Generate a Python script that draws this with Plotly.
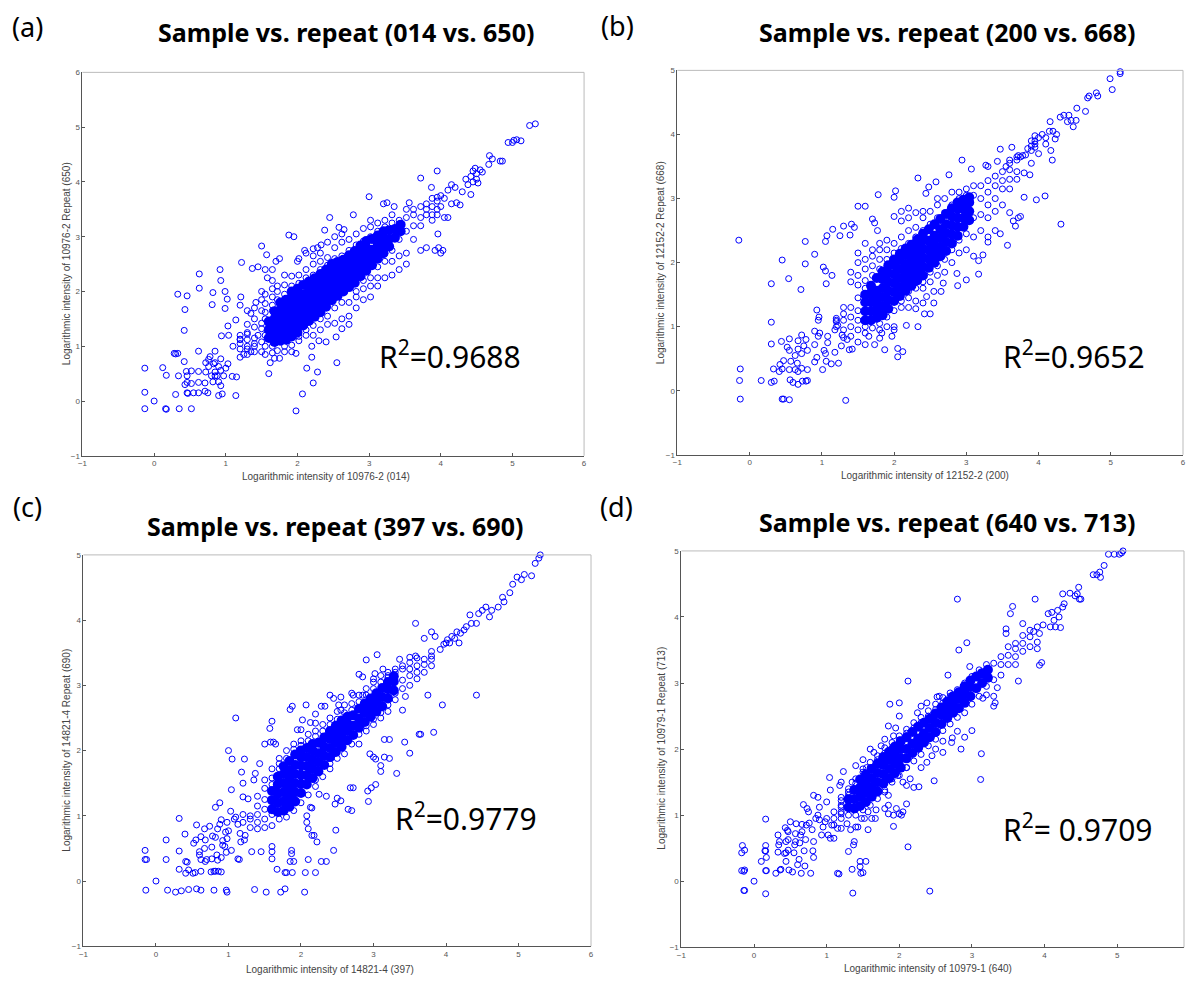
import plotly.graph_objects as go

W, H = 1187, 981
BLUE = "#0000ff"

# ---------- data ----------
# dense centre of each cloud: (sample, [repeat values at that sample value])
a_core = [(1.6,[1.15,1.3,1.45]),(1.68,[1.08,1.22,1.36,1.5,1.64]),(1.76,[1.1,1.24,1.38,1.52,1.66,1.8]),(1.84,[1.12,1.27,1.41,1.55,1.69,1.85]),(1.92,[1.18,1.32,1.46,1.6,1.74,1.88,2.0]),(2.0,[1.25,1.4,1.54,1.68,1.82,1.96,2.05]),(2.08,[1.38,1.52,1.66,1.8,1.94,2.12]),(2.16,[1.46,1.6,1.74,1.88,2.02,2.18]),(2.24,[1.54,1.68,1.82,1.96,2.1,2.24]),(2.32,[1.62,1.76,1.9,2.04,2.18,2.32]),(2.4,[1.72,1.86,2.0,2.14,2.28,2.4]),(2.48,[1.84,1.98,2.12,2.26,2.38,2.5]),(2.56,[1.92,2.06,2.2,2.34,2.46,2.54]),(2.64,[2.0,2.14,2.28,2.42,2.58]),(2.72,[2.08,2.22,2.36,2.5,2.66]),(2.8,[2.16,2.3,2.44,2.58,2.74]),(2.88,[2.28,2.42,2.56,2.7,2.84]),(2.96,[2.38,2.52,2.66,2.8,2.92]),(3.04,[2.48,2.62,2.76,2.96]),(3.12,[2.6,2.74,2.88,3.02]),(3.2,[2.7,2.84,2.98,3.1]),(3.28,[2.82,2.96,3.12]),(3.36,[2.98,3.14]),(3.44,[3.1,3.22])]
b_core = [(1.6,[1.1,1.24,1.38,1.5]),(1.68,[1.1,1.24,1.38,1.52,1.64]),(1.76,[1.14,1.28,1.42,1.56,1.76]),(1.84,[1.18,1.32,1.46,1.6,1.74,1.86]),(1.92,[1.28,1.42,1.56,1.7,1.84,1.96]),(2.0,[1.4,1.54,1.68,1.82,1.96,2.05]),(2.08,[1.48,1.62,1.76,1.9,2.04,2.14]),(2.16,[1.56,1.7,1.84,1.98,2.12,2.22]),(2.24,[1.64,1.78,1.92,2.06,2.18,2.28]),(2.32,[1.72,1.86,2.0,2.14,2.28,2.36]),(2.4,[1.8,1.94,2.08,2.22,2.36,2.45]),(2.48,[1.92,2.06,2.2,2.34,2.52]),(2.56,[2.0,2.14,2.28,2.42,2.6]),(2.64,[2.1,2.24,2.38,2.52,2.68]),(2.72,[2.18,2.32,2.46,2.6,2.76]),(2.8,[2.3,2.44,2.58,2.72,2.85]),(2.88,[2.42,2.56,2.7,2.84,2.94]),(2.96,[2.56,2.7,2.84,2.98]),(3.04,[2.66,2.8,2.94,3.02])]
c_core = [(1.6,[1.1,1.24,1.38]),(1.68,[1.06,1.2,1.34,1.48,1.6]),(1.76,[1.08,1.22,1.36,1.5,1.64,1.76]),(1.84,[1.14,1.28,1.42,1.56,1.7,1.84]),(1.92,[1.22,1.36,1.5,1.64,1.78,1.94]),(2.0,[1.35,1.49,1.63,1.77,1.9,2.0]),(2.08,[1.48,1.62,1.76,1.9,2.04]),(2.16,[1.58,1.72,1.86,2.0,2.1]),(2.24,[1.68,1.82,1.96,2.12]),(2.32,[1.78,1.92,2.06,2.2]),(2.4,[1.9,2.04,2.18,2.3]),(2.48,[1.98,2.12,2.26,2.38]),(2.56,[2.06,2.2,2.34,2.46]),(2.64,[2.16,2.3,2.42,2.52]),(2.72,[2.24,2.38,2.54]),(2.8,[2.35,2.49,2.64]),(2.88,[2.44,2.58,2.72]),(2.96,[2.52,2.66,2.8]),(3.04,[2.6,2.74,2.88]),(3.12,[2.68,2.82,2.96]),(3.2,[2.8,2.94,3.05]),(3.28,[2.92,3.06,3.14])]
d_core = [(1.3,[1.12,1.24]),(1.38,[1.1,1.24,1.38]),(1.46,[1.14,1.28,1.42,1.54]),(1.54,[1.2,1.34,1.48,1.62]),(1.62,[1.28,1.42,1.56,1.7]),(1.7,[1.36,1.5,1.64,1.78]),(1.78,[1.48,1.62,1.76,1.88]),(1.86,[1.56,1.7,1.84,1.96]),(1.94,[1.64,1.78,1.92,2.04]),(2.02,[1.72,1.86,2.0,2.12]),(2.1,[1.86,2.0,2.18]),(2.18,[1.94,2.08,2.26]),(2.26,[2.02,2.16,2.34]),(2.34,[2.1,2.24,2.4]),(2.42,[2.18,2.32,2.46]),(2.5,[2.26,2.4,2.54]),(2.58,[2.38,2.52,2.63]),(2.66,[2.47,2.6,2.72]),(2.74,[2.55,2.68,2.8]),(2.82,[2.62,2.76,2.86]),(2.9,[2.7,2.84,2.95]),(2.98,[2.8,2.94,3.04]),(3.06,[2.92,3.1]),(3.14,[3.0,3.15]),(3.22,[3.08,3.2])]

# open circles crowding round the dense centre
a_fringe = [(1.2,[.95,1.05,1.12,1.2]),(1.3,[.85,1.0,1.12,1.22,1.4,1.65]),(1.4,[.9,1.0,1.15,1.35,1.5,1.7]),(1.5,[.9,1.08,1.32,1.42,1.65,1.85,2.0]),(1.55,[.85,1.0,1.2,1.5,1.62,1.78,1.95]),(1.65,[.88,1.0,1.65,1.75,1.9,2.2,2.4]),(1.72,[.92,1.85,2.0,2.1]),(1.82,[.9,1.0,1.95,2.12,2.3]),(1.92,[.9,1.02,2.1,2.28]),(2.02,[1.1,1.18,2.15,2.3,2.6]),(2.12,[1.2,1.3,2.25,2.4,2.7]),(2.22,[1.2,1.38,2.3,2.5,2.65,2.78]),(2.32,[1.3,1.5,2.4,2.55,2.7]),(2.42,[1.4,1.55,2.48,2.62,2.9]),(2.52,[1.42,1.7,2.6,2.8,3.0]),(2.62,[1.32,1.5,1.8,2.65,2.9,3.05]),(2.72,[1.4,1.55,1.8,2.75,2.95]),(2.82,[1.7,1.9,2.0,2.85,3.05]),(2.92,[1.85,2.05,2.2,2.92,3.15]),(3.02,[1.9,2.1,2.25,3.0,3.18,3.3]),(3.12,[2.1,2.25,2.45,3.1,3.25]),(3.22,[2.25,2.55,2.7,3.18,3.3]),(3.32,[2.3,2.55,2.75,3.25,3.4]),(3.42,[2.4,2.65,2.95,3.3]),(3.52,[2.5,2.7,3.1,3.35,3.5]),(3.62,[2.95,3.2,3.4,3.5]),(3.72,[2.75,3.2,3.35,3.55]),(3.8,[3.4,3.5,3.6]),(3.88,[3.3,3.4,3.55,3.7]),(3.95,[3.4,3.5,3.65,3.72])]
b_fringe = [(1.2,[1.0,1.08,1.13]),(1.3,[.95,1.1,1.2,1.3]),(1.4,[.85,1.0,1.15,1.3,1.7,1.85]),(1.5,[.95,1.1,1.25,1.45,1.65,1.8,2.0,2.15]),(1.6,[.9,1.0,1.6,1.72,1.9,2.05,2.3]),(1.7,[.98,1.8,1.95,2.1,2.2]),(1.8,[.95,1.05,1.9,2.05,2.2,2.3]),(1.9,[1.0,1.15,2.05,2.2,2.35]),(2.0,[.95,1.25,2.15,2.3,2.72]),(2.1,[1.3,1.4,2.22,2.4,2.65,2.8]),(2.2,[1.45,1.55,2.3,2.5,2.7,2.85]),(2.3,[1.4,1.6,2.4,2.55,2.78]),(2.4,[1.6,1.7,2.5,2.7,2.8]),(2.5,[1.7,1.85,2.6,2.8]),(2.6,[1.8,1.95,2.7,2.9,3.0]),(2.7,[1.85,2.05,2.78,3.0]),(2.8,[2.0,2.2,2.9,3.1]),(2.9,[2.15,2.35,3.0,3.1]),(3.0,[2.2,2.45,3.05,3.15]),(3.1,[2.1,2.4,2.7,3.05,3.2]),(3.2,[2.5,2.75,3.0,3.2]),(3.3,[2.7,2.9,3.1,3.28]),(3.4,[2.8,3.0,3.2,3.35]),(3.5,[2.9,3.15,3.28,3.42]),(3.6,[3.15,3.3,3.45,3.55]),(3.7,[3.3,3.42,3.6,3.65]),(3.9,[3.75,3.82,3.9]),(3.95,[3.8,3.9,3.98])]
c_fringe = [(1.3,[.82,.95,1.0]),(1.4,[.8,.9,1.02,1.15,1.3]),(1.5,[.82,.95,1.1,1.25,1.42,1.55]),(1.6,[.85,1.02,1.48,1.58,1.72]),(1.7,[.95,1.72,1.8,1.88]),(1.8,[.98,1.88,2.0]),(1.9,[1.08,2.02,2.1]),(2.0,[1.2,2.08,2.15]),(2.1,[1.32,2.15,2.25]),(2.2,[1.45,1.55,2.22,2.3]),(2.3,[1.6,2.3,2.4]),(2.4,[1.72,1.8,2.4,2.5]),(2.5,[1.88,2.48,2.6]),(2.6,[1.95,2.58,2.7]),(2.7,[2.1,2.62,2.72]),(2.8,[2.1,2.25,2.75,2.85]),(2.9,[2.3,2.38,2.85,2.95]),(3.0,[2.4,2.48,2.95,3.05]),(3.1,[2.5,2.58,3.05,3.15]),(3.2,[2.6,2.7,3.12,3.2]),(3.3,[2.78,2.88,3.2,3.25]),(3.4,[2.95,3.08,3.25,3.3]),(3.5,[3.0,3.15,3.25,3.35]),(3.6,[3.1,3.2,3.3,3.42]),(3.7,[3.2,3.32,3.4]),(3.8,[3.3,3.4,3.45,3.52])]
d_fringe = [(1.1,[.85,.95,1.05]),(1.2,[.95,1.02,1.12,1.22]),(1.3,[1.0,1.3,1.4]),(1.4,[1.0,1.48,1.55]),(1.5,[1.08,1.65,1.7]),(1.6,[1.15,1.72,1.8]),(1.7,[1.25,1.84,1.9]),(1.8,[1.38,1.94,2.02]),(1.9,[1.5,2.02,2.1]),(2.0,[1.6,2.14,2.2]),(2.1,[1.72,2.24,2.3]),(2.2,[1.82,2.32,2.4]),(2.3,[1.92,2.4,2.48]),(2.4,[2.05,2.5,2.58]),(2.5,[2.15,2.6,2.68]),(2.6,[2.28,2.7,2.78]),(2.7,[2.38,2.8,2.85]),(2.8,[2.48,2.9]),(2.9,[2.55,3.0]),(3.0,[2.68,3.1]),(3.1,[2.8,3.2]),(3.2,[2.95,3.28]),(3.3,[3.05,3.3]),(3.4,[3.12,3.28,3.4]),(3.5,[3.28,3.42,3.55]),(3.6,[3.28,3.4,3.52,3.6]),(3.7,[3.48,3.6,3.72]),(3.8,[3.55,3.7,3.8])]

a_points = [(-.13,.6),(-.13,.16),(-.13,-.14),(0,0),(.12,.61),(.17,.47),(.16,-.14),(.17,-.15),(.3,.12),(.34,.46),(.35,-.14),(.28,.87),(.3,.86),(.33,.87),(.42,.72),(.42,1.29),(.43,1.67),(.33,1.95),(.46,1.92),(.63,2.06),(.63,2.32),(.43,.3),(.46,.34),(.46,.46),(.45,.54),(.52,.55),(.52,.32),(.52,-.14),(.46,.15),(.47,.14),(.55,.15),(.62,.15),(.62,.34),(.62,.54),(.62,.91),(.71,.18),(.75,.15),(.71,.33),(.72,.53),(.72,.7),(.76,.76),(.78,.81),(.76,.63),(.82,.35),(.8,.46),(.85,.46),(.85,.53),(.83,.68),(.85,.7),(.85,.91),(.88,.46),(.9,.1),(.9,.35),(.9,.63),(.93,.77),(.93,.56),(.93,.28),(.95,.13),(.97,.46),(1.0,.6),(1.03,.68),(1.09,.45),(1.15,.44),(1.14,.1),(.92,2.4),(.93,2.2),(.82,1.98),(.81,1.76),(.99,2.0),(1.02,1.86),(.99,1.69),(1.03,1.37),(.94,1.19),(1.04,1.2),(1.14,1.48),(1.21,1.9),(1.2,1.75),(1.22,2.53),(1.3,1.25),(1.2,1.13),(1.1,1.0),(1.2,.8),(1.25,.85),(1.3,.95),(1.35,.9),(1.4,1.05),(1.45,1.2),(1.35,1.6),(1.42,1.8),(1.37,2.42),(1.45,2.45),(1.5,2.83),(1.57,2.67),(1.55,2.4),(1.58,2.25),(1.65,2.05),(1.7,2.55),(1.75,2.6),(1.88,3.03),(1.95,3.0),(1.6,.5),(1.62,.7),(1.68,.78),(1.75,.78),(1.98,.87),(2.13,.6),(2.2,.8),(2.28,.53),(2.22,.33),(2.07,.13),(1.98,-.18),(2.55,.7),(2.2,1.0),(2.3,1.1),(2.4,1.08),(2.54,1.17),(2.0,2.55),(2.1,2.75),(2.28,2.8),(2.33,2.85),(2.45,3.35),(2.38,3.12),(2.58,3.17),(2.78,3.4),(2.65,3.13),(3.0,3.73),(3.2,3.6),(3.25,3.62),(3.35,3.55),(3.56,3.62),(3.72,4.07),(3.95,4.2),(3.87,3.9),(3.8,2.8),(3.92,2.75),(3.96,3.05),(3.97,2.8),(4.0,2.7),(4.03,2.75),(4.0,3.55),(4.0,3.75),(4.05,3.7),(4.1,3.35),(4.05,3.35),(4.1,3.85),(4.15,3.95),(4.15,3.6),(4.2,3.9),(4.22,3.62),(4.27,3.58),(4.3,3.82),(4.35,4.05),(4.38,3.95),(4.42,3.77),(4.42,4.1),(4.45,4.0),(4.45,4.2),(4.48,4.25),(4.5,4.15),(4.5,4.05),(4.52,3.98),(4.55,4.22),(4.58,4.18),(4.67,4.32),(4.68,4.48),(4.72,4.42),(4.83,4.38),(4.86,4.38),(4.94,4.72),(5.0,4.72),(5.02,4.76),(5.06,4.77),(5.12,4.75),(5.24,5.03),(5.32,5.06)]

b_points = [(-.15,2.35),(-.13,.34),(-.14,.16),(-.13,-.13),(.16,.16),(.3,.13),(.34,.15),(.3,1.07),(.3,.73),(.3,1.67),(.45,2.04),(.54,1.75),(.71,1.58),(.77,1.98),(.77,2.33),(.9,2.13),(.93,1.26),(.95,1.1),(.96,1.15),(1.02,1.93),(1.05,1.87),(1.06,1.67),(1.14,1.8),(1.05,2.33),(1.07,2.42),(1.15,2.52),(1.3,2.57),(1.25,2.42),(1.39,2.43),(1.41,2.6),(1.45,2.55),(1.5,2.88),(1.6,2.88),(1.7,2.68),(1.73,2.62),(1.77,2.5),(1.78,3.06),(2.02,3.12),(2.0,3.02),(.45,-.13),(.47,-.13),(.55,-.14),(1.33,-.15),(.33,.34),(.42,.41),(.41,.3),(.47,.47),(.45,.34),(.44,.77),(.52,.68),(.55,.63),(.55,.81),(.56,.17),(.6,.13),(.55,.33),(.57,.46),(.63,.55),(.63,.33),(.67,.1),(.67,.3),(.66,.43),(.67,.65),(.67,.78),(.72,.87),(.73,.15),(.72,.35),(.72,.58),(.78,.8),(.78,.15),(.8,.16),(.8,.33),(.8,.63),(.75,.7),(.9,.45),(.9,.72),(.9,.93),(.93,.52),(.95,.85),(.97,.9),(1.01,.33),(1.03,.63),(1.05,.58),(1.06,.46),(1.08,.85),(1.08,.75),(1.13,.42),(1.18,.6),(1.23,.43),(1.35,.8),(1.38,.64),(1.42,.65),(1.22,1.02),(1.18,.95),(1.2,1.1),(1.28,.87),(1.3,.83),(1.27,.7),(1.5,.76),(1.6,.72),(1.73,.72),(1.87,.64),(2.05,.53),(2.05,.66),(2.12,.61),(1.8,.82),(1.65,.85),(1.83,.9),(1.97,.85),(2.0,1.0),(2.17,1.02),(2.33,1.0),(2.42,1.2),(2.5,1.2),(2.55,1.37),(2.55,1.55),(2.65,1.55),(2.68,1.68),(2.88,1.64),(2.87,1.83),(3.0,1.73),(3.17,1.82),(2.4,1.37),(2.45,1.47),(2.3,1.28),(2.2,1.3),(2.33,3.32),(2.44,3.08),(2.48,3.18),(2.58,3.26),(2.76,3.37),(2.94,3.6),(3.07,3.46),(3.27,3.52),(3.3,3.5),(3.43,3.58),(3.55,3.5),(3.6,3.6),(3.47,3.77),(3.63,3.8),(3.72,3.67),(3.8,3.02),(3.97,2.98),(4.09,3.04),(4.31,2.6),(3.57,2.27),(3.47,2.45),(3.4,2.5),(3.3,2.32),(3.3,2.4),(3.23,2.12),(3.17,2.03),(3.6,2.78),(3.65,2.65),(3.72,2.7),(3.75,2.72),(3.68,2.57),(3.75,3.65),(3.78,3.67),(3.8,3.4),(3.82,3.68),(3.85,3.78),(3.88,3.37),(3.9,3.55),(3.95,3.85),(4.0,3.7),(4.0,3.95),(4.05,4.0),(4.1,3.85),(4.1,3.95),(4.15,4.05),(4.17,3.75),(4.19,3.6),(4.2,4.05),(4.23,3.93),(4.25,4.0),(4.16,4.2),(4.3,4.27),(4.35,4.3),(4.4,4.2),(4.42,4.3),(4.45,4.22),(4.48,4.12),(4.52,4.22),(4.53,4.41),(4.65,4.36),(4.68,4.57),(4.7,4.6),(4.8,4.65),(4.82,4.6),(4.99,4.87),(5.02,4.7),(5.13,4.95),(5.13,4.98)]

c_points = [(-.15,.47),(-.15,.33),(-.13,.33),(-.14,-.14),(0,0),(.14,.63),(.14,.33),(.16,-.14),(.27,-.17),(.32,.96),(.32,.46),(.32,.18),(.35,-.15),(.4,.72),(.41,.3),(.43,.29),(.41,.12),(.45,.17),(.45,-.13),(.52,.58),(.55,.63),(.56,.86),(.51,.12),(.54,.13),(.56,-.12),(.62,.15),(.62,-.14),(.6,.45),(.6,.4),(.62,.33),(.62,.68),(.67,.8),(.68,.63),(.67,.5),(.68,.3),(.7,.33),(.74,.84),(.76,.14),(.77,.34),(.77,.52),(.78,.69),(.8,.15),(.8,-.14),(.82,.67),(.82,.15),(.84,.4),(.85,.32),(.86,.15),(.85,.8),(.88,.87),(.9,.94),(.9,.14),(.9,.36),(.92,.55),(.92,.62),(.95,.53),(.96,.75),(.97,.44),(.97,-.14),(.98,-.17),(.98,.65),(1.0,.77),(1.03,1.07),(1.04,.47),(1.08,.95),(1.1,.98),(1.13,.87),(1.13,.34),(1.15,.33),(1.16,.73),(1.17,.6),(1.2,.9),(1.22,.63),(1.23,.7),(1.2,1.02),(1.32,.45),(1.36,-.13),(1.45,.45),(1.52,-.17),(1.6,.53),(1.6,.45),(1.6,.34),(1.67,.18),(1.72,-.17),(1.78,-.12),(1.78,.13),(1.8,.13),(1.85,.3),(1.87,.47),(1.87,.42),(1.88,.13),(1.9,.3),(2.05,-.17),(2.06,.13),(2.1,.33),(2.2,.13),(2.28,.3),(2.35,.3),(2.45,.47),(2.48,.78),(2.22,.6),(2.15,.7),(2.18,.7),(2.1,.8),(2.08,.9),(2.08,1.0),(2.13,1.13),(2.15,1.12),(2.25,1.33),(2.35,1.3),(2.47,1.18),(2.5,1.27),(2.55,1.23),(2.65,1.1),(2.7,1.08),(2.68,1.43),(2.72,1.43),(2.93,1.22),(2.92,1.38),(2.97,1.43),(3.03,1.48),(3.32,1.65),(3.1,1.68),(3.1,1.77),(2.95,1.95),(3.0,1.9),(3.03,1.87),(3.15,1.9),(3.22,1.88),(3.15,2.17),(3.22,2.17),(3.5,1.96),(3.43,2.13),(3.63,2.25),(3.65,2.25),(3.83,2.28),(3.95,2.7),(4.42,2.85),(3.75,2.85),(3.44,2.83),(3.4,2.62),(.82,1.13),(.88,1.2),(1.04,1.4),(.98,.9),(1.0,2.0),(1.05,1.87),(1.22,1.87),(1.1,2.5),(1.18,1.67),(1.2,1.5),(1.2,1.29),(1.27,1.26),(1.35,1.55),(1.37,1.65),(1.43,1.8),(1.5,2.1),(1.57,2.34),(1.58,2.13),(1.6,2.45),(1.62,2.13),(1.65,2.1),(1.85,2.63),(1.88,2.68),(2.07,2.7),(2.02,2.47),(1.95,2.32),(2.0,2.32),(2.13,2.43),(2.2,2.42),(2.2,2.56),(2.28,2.68),(2.33,2.68),(2.4,2.85),(2.45,2.8),(2.52,2.7),(2.55,2.62),(2.55,2.82),(2.7,2.88),(2.72,2.85),(2.85,2.85),(2.9,3.39),(3.05,3.47),(3.13,3.25),(2.8,3.17),(2.85,3.13),(3.02,3.18),(3.0,3.1),(3.2,3.15),(3.36,3.4),(3.5,3.43),(3.58,3.45),(3.58,3.95),(3.7,3.72),(3.8,3.82),(3.85,3.75),(3.92,3.55),(3.97,3.63),(4.0,3.65),(4.02,3.7),(4.05,3.65),(4.08,3.75),(4.12,3.72),(4.15,3.82),(4.18,3.65),(4.2,3.8),(4.25,3.85),(4.28,3.9),(4.33,4.08),(4.35,3.95),(4.42,3.95),(4.45,4.1),(4.5,4.15),(4.55,4.2),(4.6,4.05),(4.63,4.15),(4.72,4.2),(4.78,4.35),(4.8,4.28),(4.88,4.42),(4.92,4.55),(4.98,4.66),(5.04,4.62),(5.08,4.7),(5.18,4.68),(5.23,4.87),(5.28,4.95),(5.3,5.0)]

d_points = [(-.17,.43),(-.16,.54),(-.13,.47),(-.17,.16),(-.14,.15),(-.13,.17),(-.14,-.14),(-.13,-.14),(0,0),(.16,.54),(.15,.46),(.16,.46),(.16,-.19),(.16,.16),(.17,.16),(.16,.94),(.17,.36),(.1,.3),(.3,.12),(.33,.44),(.33,.7),(.34,.55),(.35,.6),(.36,.17),(.37,.18),(.42,.42),(.44,.43),(.44,.6),(.43,.81),(.46,.77),(.44,.3),(.47,.47),(.47,.75),(.5,.9),(.47,.63),(.48,.17),(.53,.14),(.56,.55),(.57,.6),(.55,.43),(.58,.87),(.57,.72),(.6,.25),(.62,.33),(.63,.58),(.64,.7),(.65,.12),(.66,.86),(.66,.75),(.68,1.16),(.69,.46),(.7,.23),(.71,.63),(.72,.85),(.73,1.1),(.75,1.05),(.76,.88),(.78,.12),(.8,.78),(.81,.46),(.82,.6),(.82,.36),(.85,.95),(.88,1.0),(.9,.93),(.93,.7),(.95,.82),(.98,.9),(1.0,.95),(1.02,.7),(1.05,.65),(1.07,.85),(1.1,.65),(1.15,.12),(1.17,.11),(.82,1.3),(.88,1.27),(.9,1.12),(1.04,1.57),(1.05,1.38),(1.0,1.2),(1.18,1.45),(1.2,1.5),(1.2,1.15),(1.2,1.05),(1.23,1.66),(1.15,.8),(1.2,.8),(1.28,.87),(1.3,.45),(1.33,.78),(1.35,.18),(1.37,.55),(1.38,.6),(1.4,.82),(1.43,.82),(1.47,.12),(1.46,.22),(1.46,.3),(1.5,.13),(1.54,.3),(1.36,-.18),(1.57,.78),(1.48,.95),(1.52,.95),(1.57,1.05),(1.62,.95),(1.68,1.08),(1.67,.95),(1.8,1.1),(1.85,1.15),(1.85,1.02),(1.92,1.0),(1.92,.83),(1.96,1.1),(2.0,1.02),(2.05,1.05),(2.1,1.17),(2.03,1.0),(2.12,.52),(2.42,-.15),(1.85,1.3),(1.8,1.35),(1.9,1.55),(1.98,1.6),(2.05,1.5),(2.1,1.45),(2.2,1.42),(2.27,1.43),(2.15,1.55),(2.48,1.52),(2.1,1.72),(2.3,1.72),(2.38,1.8),(2.45,1.9),(2.5,2.0),(2.6,1.95),(2.6,2.12),(2.72,2.1),(2.73,2.17),(2.8,2.27),(2.85,2.0),(2.9,2.18),(3.0,2.28),(3.13,1.93),(3.12,1.54),(3.3,2.65),(3.32,2.7),(3.3,2.8),(3.2,2.82),(3.15,2.77),(3.35,2.93),(3.64,3.03),(3.93,3.27),(3.96,3.31),(3.9,3.52),(3.9,3.62),(3.56,4.16),(3.53,4.05),(3.47,3.82),(3.47,3.75),(3.7,3.9),(3.87,4.27),(2.8,4.27),(2.93,3.61),(2.82,3.5),(2.97,3.25),(2.67,3.12),(2.12,3.03),(1.87,2.68),(2.0,2.5),(1.85,2.35),(2.0,2.7),(2.38,2.7),(2.52,2.79),(2.55,2.8),(2.3,2.65),(2.25,2.55),(1.55,1.72),(1.5,1.84),(1.4,1.75),(1.2,1.27),(1.3,1.35),(1.35,1.5),(1.6,2.0),(1.65,1.95),(1.75,2.05),(1.8,2.15),(1.92,2.2),(1.95,2.32),(3.85,3.78),(3.9,3.85),(3.93,3.75),(3.98,3.88),(4.05,4.05),(4.08,3.85),(4.1,4.07),(4.13,3.95),(4.15,3.85),(4.18,4.1),(4.2,4.0),(4.22,3.84),(4.25,4.15),(4.25,4.35),(4.27,4.2),(4.35,4.36),(4.42,4.32),(4.45,4.35),(4.47,4.45),(4.48,4.27),(4.5,4.27),(4.67,4.64),(4.72,4.64),(4.77,4.6),(4.76,4.68),(4.82,4.78),(4.88,4.95),(4.96,4.95),(5.03,4.95),(5.06,4.97),(5.08,5.0)]

panel_letters = ["(a)", "(b)", "(c)", "(d)"]
titles = ["Sample vs. repeat (014 vs. 650)", "Sample vs. repeat (200 vs. 668)",
          "Sample vs. repeat (397 vs. 690)", "Sample vs. repeat (640 vs. 713)"]
x_labels = ["Logarithmic intensity of 10976-2 (014)", "Logarithmic intensity of 12152-2 (200)",
            "Logarithmic intensity of 14821-4 (397)", "Logarithmic intensity of 10979-1 (640)"]
y_labels = ["Logarithmic intensity of 10976-2 Repeat (650)", "Logarithmic intensity of 12152-2 Repeat (668)",
            "Logarithmic intensity of 14821-4 Repeat (690)", "Logarithmic intensity of 10979-1 Repeat (713)"]
r2_labels = ["R<sup>2</sup>=0.9688", "R<sup>2</sup>=0.9652", "R<sup>2</sup>=0.9779", "R<sup>2</sup>= 0.9709"]
cores = [a_core, b_core, c_core, d_core]
fringes = [a_fringe, b_fringe, c_fringe, d_fringe]
points = [a_points, b_points, c_points, d_points]

# ---------- layout in page pixels ----------
boxes = [(78, 583, 69, 456), (677, 1186, 67, 455), (79, 590, 556, 951), (681, 1187, 552, 952)]
ranges_x = [(-1, 6), (-1, 6), (-1, 6), (-1, 5.92)]
ranges_y = [(-1, 6), (-1, 5), (-1, 5), (-1, 5)]
letter_pos = [(23, 23), (617, 22), (23, 507), (616, 507)]
title_pos = [(343, 28), (948, 28), (332, 527), (948, 523)]
r2_pos = [(448, 354), (1076, 354), (464, 821), (1080, 832)]
xlab_pos = [(323, 477), (926, 476), (327, 974), (929, 973)]
ylab_pos = [(62, 262), (660, 261), (62, 753), (661, 751)]

def px(x): return x / W
def py(y): return 1 - y / H
def expand(cols):
    xs, ys = [], []
    for x, vals in cols:
        for v in vals:
            xs.append(x)
            ys.append(v)
    return xs, ys

fig = go.Figure()
layout = dict(width=W, height=H, margin=dict(l=0, r=0, t=0, b=0), showlegend=False,
              paper_bgcolor="white", plot_bgcolor="white", annotations=[], shapes=[])
tick = dict(showgrid=False, zeroline=False, showline=True, linecolor="#555555", linewidth=1,
            ticks="inside", ticklen=3, tickcolor="#555555", dtick=1,
            tickfont=dict(family="Liberation Sans", size=8, color="#555555"))

def note(text, pos, size, color="black", family="Noto Sans", bold=False, angle=0):
    layout["annotations"].append(dict(
        text=f"<b>{text}</b>" if bold else text, x=px(pos[0]), y=py(pos[1]), xref="paper", yref="paper",
        showarrow=False, xanchor="center", yanchor="middle", textangle=angle,
        font=dict(family=family, size=size, color=color)))

open_marker = dict(symbol="circle-open", size=6, color=BLUE, line=dict(width=1, color=BLUE))
for i in range(4):
    n = "" if i == 0 else str(i + 1)
    l, r, t, b = boxes[i]
    cx, cy = expand(cores[i])
    fx, fy = expand(fringes[i])
    fig.add_trace(go.Scatter(x=cx, y=cy, mode="markers", xaxis=f"x{n}", yaxis=f"y{n}", hoverinfo="skip",
                             marker=dict(symbol="circle", size=10, color=BLUE, line=dict(width=0))))
    fig.add_trace(go.Scatter(x=fx + [p[0] for p in points[i]], y=fy + [p[1] for p in points[i]], mode="markers",
                             xaxis=f"x{n}", yaxis=f"y{n}", hoverinfo="skip", cliponaxis=False, marker=open_marker))
    layout[f"xaxis{n}"] = dict(tick, domain=[px(l), px(r)], range=list(ranges_x[i]), anchor=f"y{n}", tickvals=list(range(-1, 7)))
    layout[f"yaxis{n}"] = dict(tick, domain=[py(b), py(t)], range=list(ranges_y[i]), anchor=f"x{n}")
    for sh in (dict(x0=0, x1=1, y0=1, y1=1), dict(x0=1, x1=1, y0=0, y1=1)):
        layout["shapes"].append(dict(type="line", xref=f"x{n} domain", yref=f"y{n} domain",
                                     line=dict(color="#bbbbbb", width=1), **sh))
    note(panel_letters[i], letter_pos[i], 27)
    note(titles[i], title_pos[i], 25, bold=True)
    note(r2_labels[i], r2_pos[i], 30)
    note(x_labels[i], xlab_pos[i], 10, "#444444", "Liberation Sans")
    note(y_labels[i], ylab_pos[i], 10, "#444444", "Liberation Sans", angle=-90)

fig.update_layout(**layout)
fig.write_html("out.html", config={"displayModeBar": False},
               post_script="document.body.style.margin='0';document.body.style.overflow='hidden';")
